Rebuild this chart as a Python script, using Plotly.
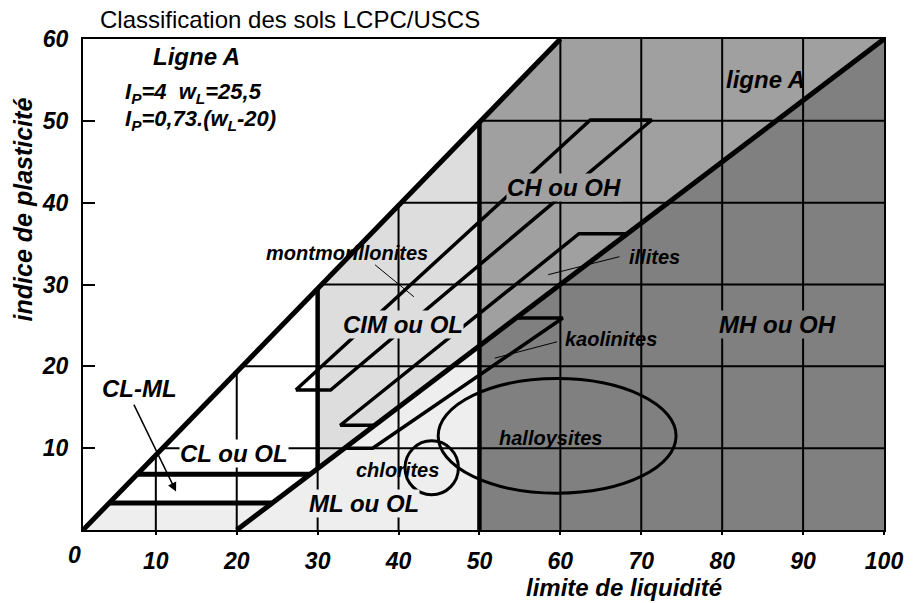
import plotly.graph_objects as go

# ---------------- data ----------------
x_ticks = [10, 20, 30, 40, 50, 60, 70, 80, 90, 100]
x_tick_labels = ["10", "20", "30", "40", "50", "60", "70", "80", "90", "100"]
x_zero_label = "0"
y_ticks = [10, 20, 30, 40, 50, 60]
y_tick_labels = ["10", "20", "30", "40", "50", "60"]

# upper boundary line and "ligne A" as drawn
upper_x = [1, 60]
upper_y = [0, 60]
aline_x = [20, 100]
aline_y = [0, 60]

# liquid-limit boundaries and the CL-ML band
wl_low = 30
wl_high = 50
clml_low = 3.3
clml_high = 6.8

# mineral zones
mont_x = [27.3, 31.6, 71.3, 63.7, 27.3]
mont_y = [17.1, 17.1, 50.1, 50.1, 17.1]
illite_x = [37.1, 32.8, 62.3, 68.0]
illite_y = [12.8, 12.8, 36.2, 36.2]
kaol_x = [33.3, 36.8, 60.3, 54.5]
kaol_y = [10.0, 10.0, 25.9, 25.9]
hall_center = [59.6, 11.5]
hall_radius = [14.7, 7.0]
chlor_center = [44.1, 7.6]
chlor_radius = [3.3, 3.3]

# pointer lines
mont_ptr_x = [37.1, 41.9]
mont_ptr_y = [32.4, 28.5]
illite_ptr_x = [58.5, 67.3]
illite_ptr_y = [31.2, 33.4]
kaol_ptr_x = [51.9, 59.6]
kaol_ptr_y = [21.0, 23.0]
clml_arrow_tail = [7.2, 15.5]
clml_arrow_head = [12.5, 4.7]

# zone colours
c_white = "#ffffff"
c_vlight = "#eeeeee"
c_light = "#dddddd"
c_mid = "#a0a0a0"
c_dark = "#808080"

FONT = "Liberation Sans, Arial, sans-serif"


def upper_at_y(y):
    return upper_x[0] + (y - upper_y[0]) * (upper_x[1] - upper_x[0]) / (upper_y[1] - upper_y[0])


def upper_at_x(x):
    return upper_y[0] + (x - upper_x[0]) * (upper_y[1] - upper_y[0]) / (upper_x[1] - upper_x[0])


def aline_at_y(y):
    return aline_x[0] + (y - aline_y[0]) * (aline_x[1] - aline_x[0]) / (aline_y[1] - aline_y[0])


def aline_at_x(x):
    return aline_y[0] + (x - aline_x[0]) * (aline_y[1] - aline_y[0]) / (aline_x[1] - aline_x[0])


XMIN, XMAX, YMIN, YMAX = 1, 100, 0, 60

fig = go.Figure()


def poly(xs, ys, color):
    fig.add_trace(go.Scatter(x=xs, y=ys, mode="lines", fill="toself", fillcolor=color,
                             line=dict(width=0, color=color), hoverinfo="skip", showlegend=False))


def line(xs, ys, width, color="black"):
    fig.add_trace(go.Scatter(x=xs, y=ys, mode="lines", line=dict(width=width, color=color),
                             hoverinfo="skip", showlegend=False, connectgaps=False))


# ---- zone fills ----
poly([XMIN, wl_high, wl_high, aline_at_y(clml_low), upper_at_y(clml_low), XMIN],
     [YMIN, YMIN, aline_at_x(wl_high), clml_low, clml_low, YMIN], c_vlight)
poly([wl_low, wl_low, wl_high, wl_high, wl_low],
     [aline_at_x(wl_low), upper_at_x(wl_low), upper_at_x(wl_high), aline_at_x(wl_high), aline_at_x(wl_low)], c_light)
poly([wl_high, wl_high, upper_x[1], XMAX, wl_high],
     [aline_at_x(wl_high), upper_at_x(wl_high), YMAX, YMAX, aline_at_x(wl_high)], c_mid)
poly([wl_high, XMAX, XMAX, wl_high, wl_high],
     [YMIN, YMIN, YMAX, aline_at_x(wl_high), YMIN], c_dark)

# ---- grid (only right of / below the upper boundary) ----
gx, gy = [], []
for v in x_ticks[:-1]:
    gx += [v, v, None]
    gy += [YMIN, min(YMAX, upper_at_x(v)), None]
for v in y_ticks[:-1]:
    gx += [max(XMIN, upper_at_y(v)), XMAX, None]
    gy += [v, v, None]
line(gx, gy, 2)

# ---- main boundaries ----
line(upper_x, upper_y, 5)
line(aline_x, aline_y, 5)
line([wl_low, wl_low], [aline_at_x(wl_low), upper_at_x(wl_low)], 4.5)
line([wl_high, wl_high], [YMIN, upper_at_x(wl_high)], 4.5)
line([upper_at_y(clml_low), aline_at_y(clml_low), None, upper_at_y(clml_high), aline_at_y(clml_high)],
     [clml_low, clml_low, None, clml_high, clml_high], 5)

# ---- mineral zones ----
line(mont_x, mont_y, 3.5)
line(illite_x, illite_y, 3.5)
line(kaol_x, kaol_y, 3.5)
line(mont_ptr_x, mont_ptr_y, 1)
line(illite_ptr_x, illite_ptr_y, 1)
line(kaol_ptr_x, kaol_ptr_y, 1)

shapes = []
for (cx, cy), (rx, ry) in [(hall_center, hall_radius), (chlor_center, chlor_radius)]:
    shapes.append(dict(type="circle", xref="x", yref="y", x0=cx - rx, x1=cx + rx, y0=cy - ry, y1=cy + ry,
                       line=dict(color="black", width=3), layer="above"))

# ---- text ----
ann = []


def label(text, x, y, size, bg=None, xanchor="center"):
    d = dict(text="<b><i>" + text + "</i></b>", x=x, y=y, xref="x", yref="y", showarrow=False,
             font=dict(family=FONT, size=size, color="black"), xanchor=xanchor, yanchor="middle")
    if bg:
        d.update(bgcolor=bg, borderpad=0)
    ann.append(d)


label("Ligne A", 15.0, 57.9, 24)
label("I<sub>P</sub>=4\u00a0\u00a0w<sub>L</sub>=25,5", 6.0, 53.4, 22, xanchor="left")
label("I<sub>P</sub>=0,73.(w<sub>L</sub>-20)", 6.0, 50.1, 22, xanchor="left")
label("ligne A", 85.3, 55.0, 24)
label("CH ou OH", 60.4, 41.8, 24, bg=c_mid)
label("CIM ou OL", 40.5, 25.1, 24, bg=c_light)
label("MH ou OH", 86.8, 25.1, 24, bg=c_dark)
label("CL ou OL", 19.7, 9.4, 24, bg=c_white)
label("ML ou OL", 35.7, 3.3, 24, bg=c_vlight)
label("CL-ML", 8.0, 17.3, 24)
label("chlorites", 39.9, 7.3, 20)
label("halloysites", 58.8, 11.2, 20)
label("montmorillonites", 33.6, 33.8, 20)
label("kaolinites", 66.3, 23.4, 20)
label("illites", 71.6, 33.4, 20)

ann.append(dict(x=clml_arrow_head[0], y=clml_arrow_head[1], ax=clml_arrow_tail[0], ay=clml_arrow_tail[1],
                xref="x", yref="y", axref="x", ayref="y", text="", showarrow=True,
                arrowhead=2, arrowsize=1.2, arrowwidth=1.5, arrowcolor="black"))

# title & axis titles
ann.append(dict(text="Classification des sols LCPC/USCS", x=0.0186, y=1.0387, xref="paper", yref="paper",
                showarrow=False, xanchor="left", yanchor="middle",
                font=dict(family=FONT, size=24, color="black")))
ann.append(dict(text="<b><i>limite de liquidité</i></b>", x=0.676, y=-0.118, xref="paper", yref="paper",
                showarrow=False, xanchor="center", yanchor="middle",
                font=dict(family=FONT, size=24, color="black")))
ann.append(dict(text="<b><i>indice de plasticité</i></b>", x=-0.0744, y=0.6538, xref="paper", yref="paper",
                showarrow=False, xanchor="center", yanchor="middle", textangle=-90,
                font=dict(family=FONT, size=25, color="black")))
ann.append(dict(text="<b><i>" + x_zero_label + "</i></b>", x=-0.0105, y=-0.051, xref="paper", yref="paper",
                showarrow=False, xanchor="center", yanchor="middle",
                font=dict(family=FONT, size=23, color="black")))

tickfont = dict(family=FONT, size=23, color="black", weight="bold", style="italic")

fig.update_layout(
    width=915, height=603,
    margin=dict(l=83, r=26, t=39, b=73),
    paper_bgcolor="white", plot_bgcolor="white",
    showlegend=False,
    hovermode=False,
    shapes=shapes,
    annotations=ann,
    xaxis=dict(range=[XMIN, XMAX], tickvals=x_ticks, ticktext=x_tick_labels, showgrid=False, zeroline=False,
               showline=True, linecolor="black", linewidth=2, mirror=True, ticks="outside", ticklen=3,
               tickwidth=2, tickcolor="black", tickfont=tickfont, ticklabelstandoff=6),
    yaxis=dict(range=[YMIN, YMAX], tickvals=y_ticks, ticktext=y_tick_labels, showgrid=False, zeroline=False,
               showline=True, linecolor="black", linewidth=2, mirror=True, ticks="inside", ticklen=12,
               tickwidth=2, tickcolor="black", tickfont=tickfont, ticklabelstandoff=8),
)

fig.write_html("out.html", config={"displayModeBar": False},
               post_script="document.body.style.margin='0';")
